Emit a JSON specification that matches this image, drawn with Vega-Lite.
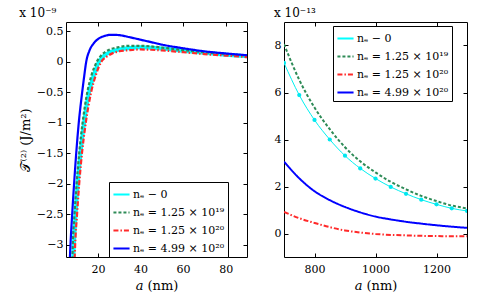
{
  "$schema": "https://vega.github.io/schema/vega-lite/v6.json",
  "padding": {"left": 18, "top": 6, "right": 4, "bottom": 2},
  "background": "white",
  "datasets": {
    "left": [
      {"series": "nₑ − 0", "a": 8.2, "T": -3.4},
      {"series": "nₑ − 0", "a": 8.7, "T": -3.0},
      {"series": "nₑ − 0", "a": 9.5, "T": -2.5},
      {"series": "nₑ − 0", "a": 10.5, "T": -2.0},
      {"series": "nₑ − 0", "a": 11.8, "T": -1.5},
      {"series": "nₑ − 0", "a": 13.5, "T": -1.0},
      {"series": "nₑ − 0", "a": 15.8, "T": -0.5},
      {"series": "nₑ − 0", "a": 17.8, "T": -0.25},
      {"series": "nₑ − 0", "a": 20.5, "T": 0},
      {"series": "nₑ − 0", "a": 23, "T": 0.1},
      {"series": "nₑ − 0", "a": 26, "T": 0.16},
      {"series": "nₑ − 0", "a": 30, "T": 0.2},
      {"series": "nₑ − 0", "a": 35, "T": 0.225},
      {"series": "nₑ − 0", "a": 40, "T": 0.235},
      {"series": "nₑ − 0", "a": 45, "T": 0.23},
      {"series": "nₑ − 0", "a": 50, "T": 0.215},
      {"series": "nₑ − 0", "a": 60, "T": 0.18},
      {"series": "nₑ − 0", "a": 70, "T": 0.145},
      {"series": "nₑ − 0", "a": 80, "T": 0.115},
      {"series": "nₑ − 0", "a": 90, "T": 0.09},
      {"series": "nₑ = 1.25 × 10¹⁹", "a": 7.9, "T": -3.4},
      {"series": "nₑ = 1.25 × 10¹⁹", "a": 8.2, "T": -3.0},
      {"series": "nₑ = 1.25 × 10¹⁹", "a": 9.0, "T": -2.5},
      {"series": "nₑ = 1.25 × 10¹⁹", "a": 10, "T": -2.0},
      {"series": "nₑ = 1.25 × 10¹⁹", "a": 11.2, "T": -1.5},
      {"series": "nₑ = 1.25 × 10¹⁹", "a": 12.8, "T": -1.0},
      {"series": "nₑ = 1.25 × 10¹⁹", "a": 15, "T": -0.5},
      {"series": "nₑ = 1.25 × 10¹⁹", "a": 17, "T": -0.22},
      {"series": "nₑ = 1.25 × 10¹⁹", "a": 19.5, "T": 0},
      {"series": "nₑ = 1.25 × 10¹⁹", "a": 22, "T": 0.12},
      {"series": "nₑ = 1.25 × 10¹⁹", "a": 25, "T": 0.19},
      {"series": "nₑ = 1.25 × 10¹⁹", "a": 30, "T": 0.24},
      {"series": "nₑ = 1.25 × 10¹⁹", "a": 35, "T": 0.26},
      {"series": "nₑ = 1.25 × 10¹⁹", "a": 40, "T": 0.26},
      {"series": "nₑ = 1.25 × 10¹⁹", "a": 45, "T": 0.25},
      {"series": "nₑ = 1.25 × 10¹⁹", "a": 50, "T": 0.23},
      {"series": "nₑ = 1.25 × 10¹⁹", "a": 60, "T": 0.19},
      {"series": "nₑ = 1.25 × 10¹⁹", "a": 70, "T": 0.155},
      {"series": "nₑ = 1.25 × 10¹⁹", "a": 80, "T": 0.125},
      {"series": "nₑ = 1.25 × 10¹⁹", "a": 90, "T": 0.1},
      {"series": "nₑ = 1.25 × 10²⁰", "a": 8.9, "T": -3.4},
      {"series": "nₑ = 1.25 × 10²⁰", "a": 9.3, "T": -3.0},
      {"series": "nₑ = 1.25 × 10²⁰", "a": 10.2, "T": -2.5},
      {"series": "nₑ = 1.25 × 10²⁰", "a": 11.2, "T": -2.0},
      {"series": "nₑ = 1.25 × 10²⁰", "a": 12.5, "T": -1.5},
      {"series": "nₑ = 1.25 × 10²⁰", "a": 14.3, "T": -1.0},
      {"series": "nₑ = 1.25 × 10²⁰", "a": 16.8, "T": -0.5},
      {"series": "nₑ = 1.25 × 10²⁰", "a": 19, "T": -0.22},
      {"series": "nₑ = 1.25 × 10²⁰", "a": 21.6, "T": 0},
      {"series": "nₑ = 1.25 × 10²⁰", "a": 24, "T": 0.08},
      {"series": "nₑ = 1.25 × 10²⁰", "a": 27, "T": 0.14},
      {"series": "nₑ = 1.25 × 10²⁰", "a": 30, "T": 0.17},
      {"series": "nₑ = 1.25 × 10²⁰", "a": 35, "T": 0.19},
      {"series": "nₑ = 1.25 × 10²⁰", "a": 40, "T": 0.2},
      {"series": "nₑ = 1.25 × 10²⁰", "a": 45, "T": 0.195},
      {"series": "nₑ = 1.25 × 10²⁰", "a": 50, "T": 0.185},
      {"series": "nₑ = 1.25 × 10²⁰", "a": 60, "T": 0.155},
      {"series": "nₑ = 1.25 × 10²⁰", "a": 70, "T": 0.125},
      {"series": "nₑ = 1.25 × 10²⁰", "a": 80, "T": 0.1},
      {"series": "nₑ = 1.25 × 10²⁰", "a": 90, "T": 0.075},
      {"series": "nₑ = 4.99 × 10²⁰", "a": 6.6, "T": -3.4},
      {"series": "nₑ = 4.99 × 10²⁰", "a": 7.1, "T": -3.0},
      {"series": "nₑ = 4.99 × 10²⁰", "a": 7.9, "T": -2.5},
      {"series": "nₑ = 4.99 × 10²⁰", "a": 8.8, "T": -2.0},
      {"series": "nₑ = 4.99 × 10²⁰", "a": 9.8, "T": -1.5},
      {"series": "nₑ = 4.99 × 10²⁰", "a": 11, "T": -1.0},
      {"series": "nₑ = 4.99 × 10²⁰", "a": 12.6, "T": -0.5},
      {"series": "nₑ = 4.99 × 10²⁰", "a": 13.5, "T": -0.25},
      {"series": "nₑ = 4.99 × 10²⁰", "a": 14.5, "T": 0},
      {"series": "nₑ = 4.99 × 10²⁰", "a": 16, "T": 0.18},
      {"series": "nₑ = 4.99 × 10²⁰", "a": 18, "T": 0.3},
      {"series": "nₑ = 4.99 × 10²⁰", "a": 20, "T": 0.37},
      {"series": "nₑ = 4.99 × 10²⁰", "a": 23, "T": 0.42},
      {"series": "nₑ = 4.99 × 10²⁰", "a": 26, "T": 0.44},
      {"series": "nₑ = 4.99 × 10²⁰", "a": 28, "T": 0.44},
      {"series": "nₑ = 4.99 × 10²⁰", "a": 30, "T": 0.435},
      {"series": "nₑ = 4.99 × 10²⁰", "a": 35, "T": 0.4},
      {"series": "nₑ = 4.99 × 10²⁰", "a": 40, "T": 0.36},
      {"series": "nₑ = 4.99 × 10²⁰", "a": 45, "T": 0.32},
      {"series": "nₑ = 4.99 × 10²⁰", "a": 50, "T": 0.28},
      {"series": "nₑ = 4.99 × 10²⁰", "a": 60, "T": 0.22},
      {"series": "nₑ = 4.99 × 10²⁰", "a": 70, "T": 0.17},
      {"series": "nₑ = 4.99 × 10²⁰", "a": 80, "T": 0.135},
      {"series": "nₑ = 4.99 × 10²⁰", "a": 90, "T": 0.105}
    ],
    "right": [
      {"series": "nₑ − 0", "a": 700, "T": 7.26},
      {"series": "nₑ − 0", "a": 750, "T": 5.89},
      {"series": "nₑ − 0", "a": 800, "T": 4.83},
      {"series": "nₑ − 0", "a": 850, "T": 4.0},
      {"series": "nₑ − 0", "a": 900, "T": 3.31},
      {"series": "nₑ − 0", "a": 950, "T": 2.77},
      {"series": "nₑ − 0", "a": 1000, "T": 2.34},
      {"series": "nₑ − 0", "a": 1050, "T": 1.98},
      {"series": "nₑ − 0", "a": 1100, "T": 1.69},
      {"series": "nₑ − 0", "a": 1150, "T": 1.44},
      {"series": "nₑ − 0", "a": 1200, "T": 1.24},
      {"series": "nₑ − 0", "a": 1250, "T": 1.07},
      {"series": "nₑ − 0", "a": 1300, "T": 0.96},
      {"series": "nₑ = 1.25 × 10¹⁹", "a": 700, "T": 8.06},
      {"series": "nₑ = 1.25 × 10¹⁹", "a": 750, "T": 6.54},
      {"series": "nₑ = 1.25 × 10¹⁹", "a": 800, "T": 5.36},
      {"series": "nₑ = 1.25 × 10¹⁹", "a": 850, "T": 4.44},
      {"series": "nₑ = 1.25 × 10¹⁹", "a": 900, "T": 3.67},
      {"series": "nₑ = 1.25 × 10¹⁹", "a": 950, "T": 3.07},
      {"series": "nₑ = 1.25 × 10¹⁹", "a": 1000, "T": 2.6},
      {"series": "nₑ = 1.25 × 10¹⁹", "a": 1050, "T": 2.2},
      {"series": "nₑ = 1.25 × 10¹⁹", "a": 1100, "T": 1.88},
      {"series": "nₑ = 1.25 × 10¹⁹", "a": 1150, "T": 1.6},
      {"series": "nₑ = 1.25 × 10¹⁹", "a": 1200, "T": 1.38},
      {"series": "nₑ = 1.25 × 10¹⁹", "a": 1250, "T": 1.19},
      {"series": "nₑ = 1.25 × 10¹⁹", "a": 1300, "T": 1.07},
      {"series": "nₑ = 1.25 × 10²⁰", "a": 700, "T": 0.92},
      {"series": "nₑ = 1.25 × 10²⁰", "a": 750, "T": 0.65},
      {"series": "nₑ = 1.25 × 10²⁰", "a": 800, "T": 0.45},
      {"series": "nₑ = 1.25 × 10²⁰", "a": 850, "T": 0.27},
      {"series": "nₑ = 1.25 × 10²⁰", "a": 900, "T": 0.13},
      {"series": "nₑ = 1.25 × 10²⁰", "a": 950, "T": 0.04},
      {"series": "nₑ = 1.25 × 10²⁰", "a": 1000, "T": -0.02},
      {"series": "nₑ = 1.25 × 10²⁰", "a": 1050, "T": -0.06},
      {"series": "nₑ = 1.25 × 10²⁰", "a": 1100, "T": -0.08},
      {"series": "nₑ = 1.25 × 10²⁰", "a": 1150, "T": -0.1},
      {"series": "nₑ = 1.25 × 10²⁰", "a": 1200, "T": -0.11},
      {"series": "nₑ = 1.25 × 10²⁰", "a": 1250, "T": -0.12},
      {"series": "nₑ = 1.25 × 10²⁰", "a": 1300, "T": -0.12},
      {"series": "nₑ = 4.99 × 10²⁰", "a": 700, "T": 3.06},
      {"series": "nₑ = 4.99 × 10²⁰", "a": 750, "T": 2.35},
      {"series": "nₑ = 4.99 × 10²⁰", "a": 800, "T": 1.8},
      {"series": "nₑ = 4.99 × 10²⁰", "a": 850, "T": 1.42},
      {"series": "nₑ = 4.99 × 10²⁰", "a": 900, "T": 1.13},
      {"series": "nₑ = 4.99 × 10²⁰", "a": 950, "T": 0.9},
      {"series": "nₑ = 4.99 × 10²⁰", "a": 1000, "T": 0.72},
      {"series": "nₑ = 4.99 × 10²⁰", "a": 1050, "T": 0.6},
      {"series": "nₑ = 4.99 × 10²⁰", "a": 1100, "T": 0.5},
      {"series": "nₑ = 4.99 × 10²⁰", "a": 1150, "T": 0.42},
      {"series": "nₑ = 4.99 × 10²⁰", "a": 1200, "T": 0.35},
      {"series": "nₑ = 4.99 × 10²⁰", "a": 1250, "T": 0.29},
      {"series": "nₑ = 4.99 × 10²⁰", "a": 1300, "T": 0.24}
    ]
  },
  "resolve": {
    "legend": {"color": "independent", "strokeDash": "independent"}
  },
  "hconcat": [
    {
      "width": 181,
      "height": 235,
      "title": {"text": "x 10⁻⁹", "offset": 2},
      "layer": [
        {
          "layer": [
            {
              "mark": {"type": "rule", "color": "#9a9a9a", "strokeDash": [1, 1.5], "strokeWidth": 1},
              "encoding": {"y": {"datum": 0, "type": "quantitative", "axis": {"values": [-3, -2.5, -2, -1.5, -1, -0.5, 0, 0.5], "format": "~g", "title": "𝒯⁽²⁾ (J/m²)"}}}
            },
            {
              "data": {"name": "left"},
              "transform": [{"filter": {"field": "series", "equal": "nₑ − 0"}}],
              "mark": {"type": "line", "clip": true, "interpolate": "monotone", "color": "#00ffff", "strokeWidth": 4},
              "encoding": {
                "x": {"field": "a", "type": "quantitative", "scale": {"domain": [5, 90], "nice": false, "zero": false}, "axis": {"values": [20, 40, 60, 80], "format": "d", "title": "𝑎 (nm)"}},
                "y": {"field": "T", "type": "quantitative", "scale": {"domain": [-3.2, 0.65], "nice": false, "zero": false}, "axis": {"values": [-3, -2.5, -2, -1.5, -1, -0.5, 0, 0.5], "format": "~g", "title": "𝒯⁽²⁾ (J/m²)"}}
              }
            },
            {
              "data": {"name": "left"},
              "transform": [{"filter": {"not": {"field": "series", "equal": "nₑ − 0"}}}],
              "mark": {"type": "line", "clip": true, "interpolate": "monotone", "strokeWidth": 2.2},
              "encoding": {
                "x": {"field": "a", "type": "quantitative", "axis": {"values": [20, 40, 60, 80], "format": "d", "title": "𝑎 (nm)"}},
                "y": {"field": "T", "type": "quantitative", "axis": {"values": [-3, -2.5, -2, -1.5, -1, -0.5, 0, 0.5], "format": "~g", "title": "𝒯⁽²⁾ (J/m²)"}},
                "color": {"field": "series", "type": "nominal", "scale": {"domain": ["nₑ − 0", "nₑ = 1.25 × 10¹⁹", "nₑ = 1.25 × 10²⁰", "nₑ = 4.99 × 10²⁰"], "range": ["#00ffff", "#2e8b57", "#ff2a2a", "#0000ff"]},
                  "legend": {"title": null, "orient": "none", "legendX": 43, "legendY": 160}},
                "strokeDash": {"field": "series", "type": "nominal", "scale": {"domain": ["nₑ − 0", "nₑ = 1.25 × 10¹⁹", "nₑ = 1.25 × 10²⁰", "nₑ = 4.99 × 10²⁰"], "range": [[1, 0], [3, 2], [5, 2, 1.5, 2], [1, 0]]},
                  "legend": {"title": null, "orient": "none", "legendX": 43, "legendY": 160}}
              }
            }
          ]
        },
        {
          "data": {"name": "left"},
          "mark": {"type": "point", "opacity": 0},
          "encoding": {
            "x": {"field": "a", "type": "quantitative", "axis": {"orient": "top", "labels": false, "title": null, "values": [20, 40, 60, 80]}},
            "y": {"field": "T", "type": "quantitative", "axis": {"orient": "right", "labels": false, "title": null, "values": [-3, -2.5, -2, -1.5, -1, -0.5, 0, 0.5]}}
          }
        }
      ],
      "resolve": {"axis": {"x": "independent", "y": "independent"}}
    },
    {
      "width": 183,
      "height": 235,
      "title": {"text": "x 10⁻¹³", "offset": 2},
      "layer": [
        {
          "layer": [
            {
              "mark": {"type": "rule", "color": "#9a9a9a", "strokeDash": [1, 1.5], "strokeWidth": 1},
              "encoding": {"y": {"datum": 0, "type": "quantitative", "axis": {"values": [0, 2, 4, 6, 8], "format": "~g", "title": null}}}
            },
            {
              "data": {"name": "right"},
              "transform": [{"filter": {"not": {"field": "series", "equal": "nₑ − 0"}}}],
              "mark": {"type": "line", "clip": true, "interpolate": "monotone", "strokeWidth": 2},
              "encoding": {
                "x": {"field": "a", "type": "quantitative", "scale": {"domain": [700, 1300], "nice": false, "zero": false}, "axis": {"values": [800, 1000, 1200], "format": "d", "title": "𝑎 (nm)"}},
                "y": {"field": "T", "type": "quantitative", "scale": {"domain": [-1, 9], "nice": false, "zero": false}, "axis": {"values": [0, 2, 4, 6, 8], "format": "~g", "title": null}},
                "color": {"field": "series", "type": "nominal", "scale": {"domain": ["nₑ − 0", "nₑ = 1.25 × 10¹⁹", "nₑ = 1.25 × 10²⁰", "nₑ = 4.99 × 10²⁰"], "range": ["#00ffff", "#2e8b57", "#ff2a2a", "#0000ff"]},
                  "legend": {"title": null, "orient": "none", "legendX": 49, "legendY": 4}},
                "strokeDash": {"field": "series", "type": "nominal", "scale": {"domain": ["nₑ − 0", "nₑ = 1.25 × 10¹⁹", "nₑ = 1.25 × 10²⁰", "nₑ = 4.99 × 10²⁰"], "range": [[1, 0], [3, 2], [5, 2, 1.5, 2], [1, 0]]},
                  "legend": {"title": null, "orient": "none", "legendX": 49, "legendY": 4}}
              }
            },
            {
              "data": {"name": "right"},
              "transform": [{"filter": {"field": "series", "equal": "nₑ − 0"}}],
              "mark": {"type": "line", "clip": true, "interpolate": "monotone", "color": "#00f0f0", "strokeWidth": 1},
              "encoding": {
                "x": {"field": "a", "type": "quantitative"},
                "y": {"field": "T", "type": "quantitative"}
              }
            },
            {
              "data": {"name": "right"},
              "transform": [{"filter": {"field": "series", "equal": "nₑ − 0"}}],
              "mark": {"type": "point", "filled": true, "shape": "circle", "size": 18, "color": "#00e8f0", "opacity": 1, "clip": true},
              "encoding": {
                "x": {"field": "a", "type": "quantitative"},
                "y": {"field": "T", "type": "quantitative"}
              }
            }
          ]
        },
        {
          "data": {"name": "right"},
          "mark": {"type": "point", "opacity": 0},
          "encoding": {
            "x": {"field": "a", "type": "quantitative", "axis": {"orient": "top", "labels": false, "title": null, "values": [800, 1000, 1200]}},
            "y": {"field": "T", "type": "quantitative", "axis": {"orient": "right", "labels": false, "title": null, "values": [0, 2, 4, 6, 8]}}
          }
        }
      ],
      "resolve": {"axis": {"x": "independent", "y": "independent"}}
    }
  ],
  "config": {
    "font": "DejaVu Serif",
    "view": {"stroke": "black", "strokeWidth": 1},
    "concat": {"spacing": 22},
    "axis": {
      "grid": false, "domain": false, "tickColor": "black", "tickSize": -4, "tickWidth": 1,
      "labelPadding": 7, "labelFontSize": 11, "labelColor": "black", "labelFont": "DejaVu Serif",
      "titleFontSize": 13, "titleFontWeight": "normal", "titleColor": "black", "titleFont": "DejaVu Serif",
      "titlePadding": 4
    },
    "axisX": {"labelPadding": 10, "titlePadding": 5},
    "title": {"fontSize": 12, "fontWeight": "normal", "anchor": "start", "font": "DejaVu Serif", "color": "black"},
    "legend": {
      "strokeColor": "black", "fillColor": "white", "padding": 3, "labelFontSize": 11, "labelFont": "DejaVu Serif",
      "labelColor": "black", "symbolType": "stroke", "symbolStrokeWidth": 2, "symbolSize": 260, "rowPadding": 3,
      "labelOffset": 2, "labelLimit": 300, "cornerRadius": 0
    }
  }
}
